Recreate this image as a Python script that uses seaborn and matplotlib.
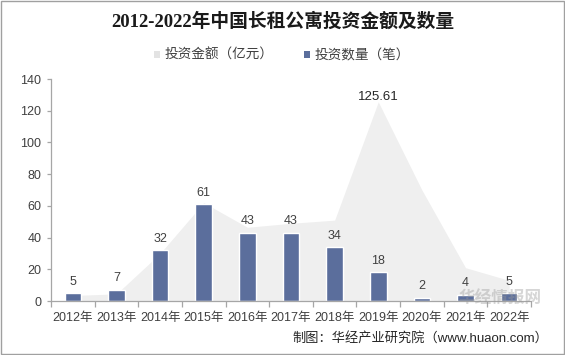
import matplotlib
matplotlib.use("Agg")
import matplotlib.pyplot as plt
from matplotlib.patches import Patch, Rectangle
import seaborn as sns
import pandas as pd
import numpy as np

years = ["2012年", "2013年", "2014年", "2015年", "2016年", "2017年",
         "2018年", "2019年", "2020年", "2021年", "2022年"]
amount = [3.5, 4.5, 30, 62, 46.5, 49, 51, 125.61, 70, 21, 13]   # 投资金额（亿元）
count = [5, 7, 32, 61, 43, 43, 34, 18, 2, 4, 5]                  # 投资数量（笔）
yticks = [0, 20, 40, 60, 80, 100, 120, 140]

sns.set_theme(style="white")
plt.rcParams["font.family"] = ["Liberation Sans", "Noto Sans CJK SC"]

BAR = "#5b6e9c"
AREA = "#efefef"
TXT = "#404040"
AX = "#a6a6a6"

fig = plt.figure(figsize=(5.65, 3.55), dpi=100)
ax = fig.add_axes([51/565, 1-301/355, 480/565, 222/355])

df = pd.DataFrame({"year": years, "count": count, "amount": amount})
xpos = np.arange(len(years))
ax.fill_between(xpos, 0, df["amount"], color=AREA, linewidth=0, zorder=1)
sns.barplot(data=df, x="year", y="count", color=BAR, width=0.38,
            saturation=1, ax=ax, zorder=2)

for i, v in enumerate(count):
    ax.annotate(str(v), (i, v), xytext=(0, 4), textcoords="offset points",
                ha="center", va="bottom", fontsize=9, color=TXT)
imax = int(np.argmax(amount))
ax.annotate(f"{amount[imax]:.2f}", (imax, amount[imax]), xytext=(0, -1),
            textcoords="offset points", ha="center", va="bottom",
            fontsize=9.5, color="#262626")

ax.set_xlim(-0.5, len(years) - 0.5)
ax.set_ylim(0, 140)
ax.set_yticks(yticks)
ax.set_xlabel("")
ax.set_ylabel("")
for s in ["top", "right"]:
    ax.spines[s].set_visible(False)
for s in ["left", "bottom"]:
    ax.spines[s].set_color(AX)
    ax.spines[s].set_linewidth(0.9)
ax.tick_params(axis="y", left=True, length=3, width=0.9, color=AX,
               labelsize=9, labelcolor=TXT, pad=4)
ax.tick_params(axis="x", bottom=True, length=0, labelsize=9,
               labelcolor=TXT, pad=8)
ax.set_xticks(np.arange(-0.5, len(years), 1), minor=True)
ax.tick_params(axis="x", which="minor", bottom=True, length=4, width=0.9,
               color=AX)

fig.text(0.5, 1-22/355, "2012-2022年中国长租公寓投资金额及数量",
         ha="center", va="center", fontsize=13.5, fontweight="bold",
         color="#1a1a1a", family=["Liberation Serif", "Noto Sans CJK SC"])

handles = [Patch(facecolor="#e3e3e3", edgecolor="none", label="投资金额（亿元）"),
           Patch(facecolor=BAR, edgecolor="none", label="投资数量（笔）")]
leg = fig.legend(handles=handles, loc="center", bbox_to_anchor=(282/565, 1-55/355),
                 ncol=2, frameon=False, fontsize=9.8, handlelength=0.42,
                 handleheight=0.42, handletextpad=0.35, columnspacing=2.2,
                 labelcolor=TXT, borderpad=0, borderaxespad=0)

fig.text(548/565, 1-338/355, "制图：华经产业研究院（www.huaon.com）",
         ha="right", va="center", fontsize=9.5, color="#262626")

fig.text(500/565, 1-299/355, "华经情报网", ha="center", va="center",
         fontsize=12, fontweight="bold", color="#9a9a9a", alpha=0.4, zorder=5)

fig.patches.append(Rectangle((0.002, 0.003), 0.996, 0.994, transform=fig.transFigure,
                             fill=False, edgecolor="#a0a0a0", linewidth=1))

fig.savefig("out.png", dpi=100)
